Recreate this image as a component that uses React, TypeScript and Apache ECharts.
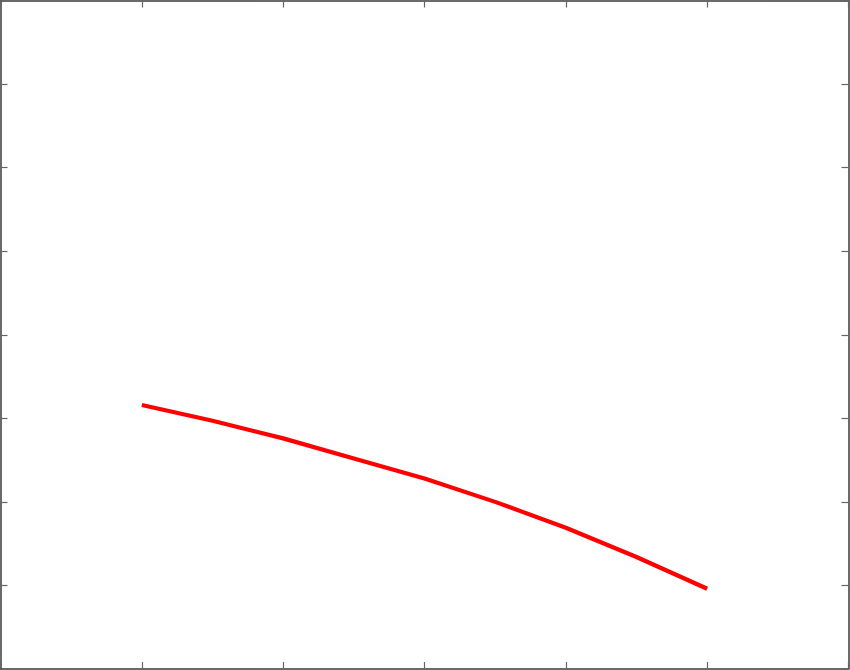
import React, { useEffect, useRef } from "react";
import * as echarts from "echarts";

const xValues = [1, 1.5, 2, 2.5, 3, 3.5, 4, 4.5, 5];
const yValues = [3.16, 2.97, 2.76, 2.52, 2.28, 2.0, 1.69, 1.34, 0.96];
const xRange = [0, 6];
const yRange = [0, 8];

export default function App() {
  const ref = useRef<HTMLDivElement>(null);
  useEffect(() => {
    if (!ref.current) return;
    const chart = echarts.init(ref.current, undefined, { renderer: "svg" });
    const axisCommon = {
      axisLine: { show: true, onZero: false, lineStyle: { color: "#3a3a3a", width: 1.5 } },
      axisTick: { show: true, inside: true, length: 7, lineStyle: { color: "#666", width: 1.2 } },
      axisLabel: { show: false },
      splitLine: { show: false },
    };
    chart.setOption({
      animation: false,
      backgroundColor: "#ffffff",
      grid: { left: 0.5, right: 1.5, top: 0.5, bottom: 1, containLabel: false },
      xAxis: [
        { type: "value", min: xRange[0], max: xRange[1], interval: 1, position: "bottom", ...axisCommon },
        { type: "value", min: xRange[0], max: xRange[1], interval: 1, position: "top", ...axisCommon },
      ],
      yAxis: [
        { type: "value", min: yRange[0], max: yRange[1], interval: 1, position: "left", ...axisCommon },
        { type: "value", min: yRange[0], max: yRange[1], interval: 1, position: "right", ...axisCommon },
      ],
      series: [
        {
          type: "line",
          data: xValues.map((x, i) => [x, yValues[i]]),
          showSymbol: false,
          lineStyle: { color: "#ff0000", width: 4.2 },
          itemStyle: { color: "#ff0000" },
        },
      ],
    });
    return () => chart.dispose();
  }, []);
  return (
    <div
      ref={ref}
      style={{ position: "fixed", left: 0, top: 0, width: 850, height: 670, background: "#fff" }}
    />
  );
}
